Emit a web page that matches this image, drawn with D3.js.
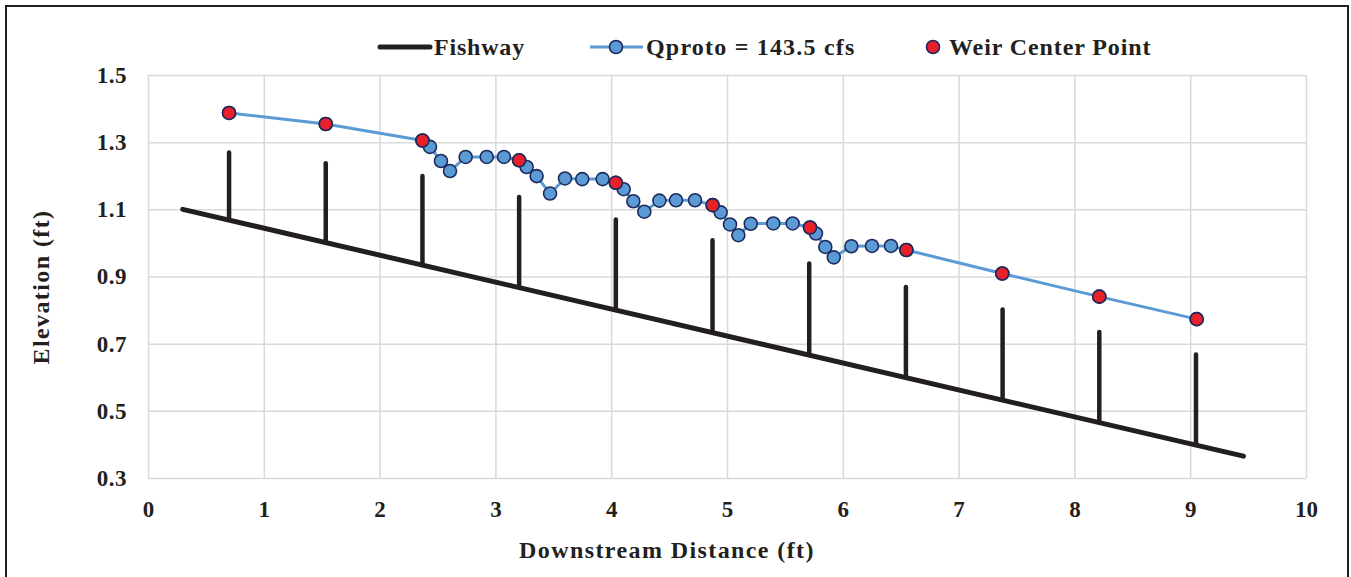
<!DOCTYPE html>
<html>
<head>
<meta charset="utf-8">
<script src="https://cdn.jsdelivr.net/npm/d3@7/dist/d3.min.js"></script>
<style>
  html, body { margin: 0; padding: 0; background: #fff; }
  svg { display: block; }
  text { font-family: "Liberation Serif", "DejaVu Serif", serif; font-weight: bold; fill: #231f20; }
</style>
</head>
<body>
<svg id="chart" width="1351" height="577"></svg>
<script>
// Fishway floor (start and end of the sloped channel)
const fishwayX = [0.3, 9.46];
const fishwayY = [1.1, 0.365];

// Weir plates: station, base on fishway floor, crest elevation
const weirX    = [0.70, 1.535, 2.37, 3.205, 4.04, 4.875, 5.71, 6.545, 7.38, 8.215, 9.05];
const weirBase = [1.068, 1.001, 0.934, 0.867, 0.800, 0.733, 0.666, 0.599, 0.532, 0.465, 0.398];
const weirTop  = [1.269, 1.237, 1.199, 1.137, 1.070, 1.008, 0.939, 0.869, 0.802, 0.735, 0.668];

// Water surface profile, Qproto = 143.5 cfs
const profileX = [0.70, 1.535, 2.37, 2.435, 2.53, 2.608, 2.743, 2.925, 3.074,
                  3.205, 3.27, 3.356, 3.472, 3.601, 3.75, 3.926,
                  4.04, 4.108, 4.191, 4.286, 4.416, 4.56, 4.724,
                  4.876, 4.945, 5.026, 5.098, 5.205, 5.40, 5.567,
                  5.717, 5.768, 5.849, 5.922, 6.074, 6.252, 6.416,
                  6.549, 7.377, 8.215, 9.056];
const profileY = [1.387, 1.354, 1.305, 1.286, 1.244, 1.214, 1.256, 1.256, 1.256,
                  1.246, 1.226, 1.199, 1.147, 1.192, 1.190, 1.190,
                  1.179, 1.160, 1.124, 1.093, 1.126, 1.127, 1.127,
                  1.1125, 1.091, 1.055, 1.023, 1.057, 1.058, 1.058,
                  1.046, 1.028, 0.988, 0.957, 0.990, 0.991, 0.991,
                  0.979, 0.909, 0.840, 0.773];

// Water surface at each weir centre
const centerX = [0.70, 1.535, 2.37, 3.205, 4.04, 4.876, 5.717, 6.549, 7.377, 8.215, 9.056];
const centerY = [1.387, 1.354, 1.305, 1.246, 1.179, 1.1125, 1.046, 0.979, 0.909, 0.840, 0.773];

const xTicks = [0, 1, 2, 3, 4, 5, 6, 7, 8, 9, 10];
const yTicks = [0.3, 0.5, 0.7, 0.9, 1.1, 1.3, 1.5];

const legendLabels = ["Fishway", "Qproto = 143.5 cfs", "Weir Center Point"];

const svg = d3.select("#chart");
const plot = { left: 148, right: 1306, top: 75, bottom: 478 };

const x = d3.scaleLinear().domain([0, 10]).range([plot.left, plot.right]);
const y = d3.scaleLinear().domain([0.3, 1.5]).range([plot.bottom, plot.top]);

const ink = "#231f20";
const blue = "#5b9bd5";
const navy = "#1f2a5c";
const red = "#e8202a";
const labelFont = "24px";

// outer frame
svg.append("rect")
  .attr("x", 6).attr("y", 6).attr("width", 1342).attr("height", 590)
  .attr("fill", "none").attr("stroke", ink).attr("stroke-width", 2);

// gridlines
svg.append("g")
  .attr("transform", `translate(0,${plot.bottom})`)
  .call(d3.axisBottom(x).tickValues(xTicks).tickSize(-(plot.bottom - plot.top)).tickFormat(""))
  .call(g => g.select(".domain").remove())
  .call(g => g.selectAll("line").attr("stroke", "#d9d9d9").attr("stroke-width", 1.5));

svg.append("g")
  .attr("transform", `translate(${plot.left},0)`)
  .call(d3.axisLeft(y).tickValues(yTicks).tickSize(-(plot.right - plot.left)).tickFormat(""))
  .call(g => g.select(".domain").remove())
  .call(g => g.selectAll("line").attr("stroke", "#d9d9d9").attr("stroke-width", 1.5));

// tick labels
svg.append("g")
  .attr("transform", `translate(0,${plot.bottom + 23})`)
  .call(d3.axisBottom(x).tickValues(xTicks).tickSize(0).tickPadding(0).tickFormat(d3.format("d")))
  .call(g => g.select(".domain").remove())
  .call(g => g.selectAll("text").attr("dy", "0.71em").style("font-size", "23px")
    .style("font-family", "'Liberation Serif', serif").style("font-weight", "bold").attr("fill", ink));

svg.append("g")
  .attr("transform", `translate(${plot.left - 21},0)`)
  .call(d3.axisLeft(y).tickValues(yTicks).tickSize(0).tickPadding(0).tickFormat(d3.format(".1f")))
  .call(g => g.select(".domain").remove())
  .call(g => g.selectAll("text").style("font-size", "23px").style("letter-spacing", "0.5px")
    .style("font-family", "'Liberation Serif', serif").style("font-weight", "bold").attr("fill", ink));

// axis titles
svg.append("text")
  .attr("x", 667).attr("y", 558)
  .attr("text-anchor", "middle").style("font-size", labelFont).style("letter-spacing", "1.4px")
  .text("Downstream Distance (ft)");

svg.append("text")
  .attr("transform", "translate(49,287) rotate(-90)")
  .attr("text-anchor", "middle").style("font-size", labelFont).style("letter-spacing", "1.4px")
  .text("Elevation (ft)");

// fishway floor
svg.append("line")
  .attr("x1", x(fishwayX[0])).attr("y1", y(fishwayY[0]))
  .attr("x2", x(fishwayX[1])).attr("y2", y(fishwayY[1]))
  .attr("stroke", ink).attr("stroke-width", 5).attr("stroke-linecap", "round");

// weir plates
svg.append("g").selectAll("line")
  .data(weirX.map((d, i) => ({ x: d, b: weirBase[i], t: weirTop[i] })))
  .join("line")
  .attr("x1", d => x(d.x)).attr("x2", d => x(d.x))
  .attr("y1", d => y(d.b)).attr("y2", d => y(d.t))
  .attr("stroke", ink).attr("stroke-width", 4.5).attr("stroke-linecap", "round");

// water surface profile
const profile = profileX.map((d, i) => [d, profileY[i]]);
svg.append("path")
  .datum(profile)
  .attr("fill", "none").attr("stroke", blue).attr("stroke-width", 3)
  .attr("d", d3.line().x(d => x(d[0])).y(d => y(d[1])));

svg.append("g").selectAll("circle")
  .data(profile)
  .join("circle")
  .attr("cx", d => x(d[0])).attr("cy", d => y(d[1])).attr("r", 6.5)
  .attr("fill", blue).attr("stroke", navy).attr("stroke-width", 1.6);

// weir centre points
svg.append("g").selectAll("circle")
  .data(centerX.map((d, i) => [d, centerY[i]]))
  .join("circle")
  .attr("cx", d => x(d[0])).attr("cy", d => y(d[1])).attr("r", 6.5)
  .attr("fill", red).attr("stroke", navy).attr("stroke-width", 1.6);

// legend
const leg = svg.append("g").attr("transform", "translate(0,47)");
leg.append("line").attr("x1", 380).attr("x2", 430).attr("y1", 0).attr("y2", 0)
  .attr("stroke", ink).attr("stroke-width", 5).attr("stroke-linecap", "round");
leg.append("text").attr("x", 434).attr("y", 8).style("font-size", labelFont).style("letter-spacing", "0.8px")
  .text(legendLabels[0]);

leg.append("line").attr("x1", 590).attr("x2", 643).attr("y1", 0).attr("y2", 0)
  .attr("stroke", blue).attr("stroke-width", 3);
leg.append("circle").attr("cx", 616).attr("cy", 0).attr("r", 6.5)
  .attr("fill", blue).attr("stroke", navy).attr("stroke-width", 1.6);
leg.append("text").attr("x", 646).attr("y", 8).style("font-size", labelFont).style("letter-spacing", "1.2px")
  .text(legendLabels[1]);

leg.append("circle").attr("cx", 933).attr("cy", 0).attr("r", 6.5)
  .attr("fill", red).attr("stroke", navy).attr("stroke-width", 1.6);
leg.append("text").attr("x", 949).attr("y", 8).style("font-size", labelFont).style("letter-spacing", "0.9px")
  .text(legendLabels[2]);
</script>
</body>
</html>
